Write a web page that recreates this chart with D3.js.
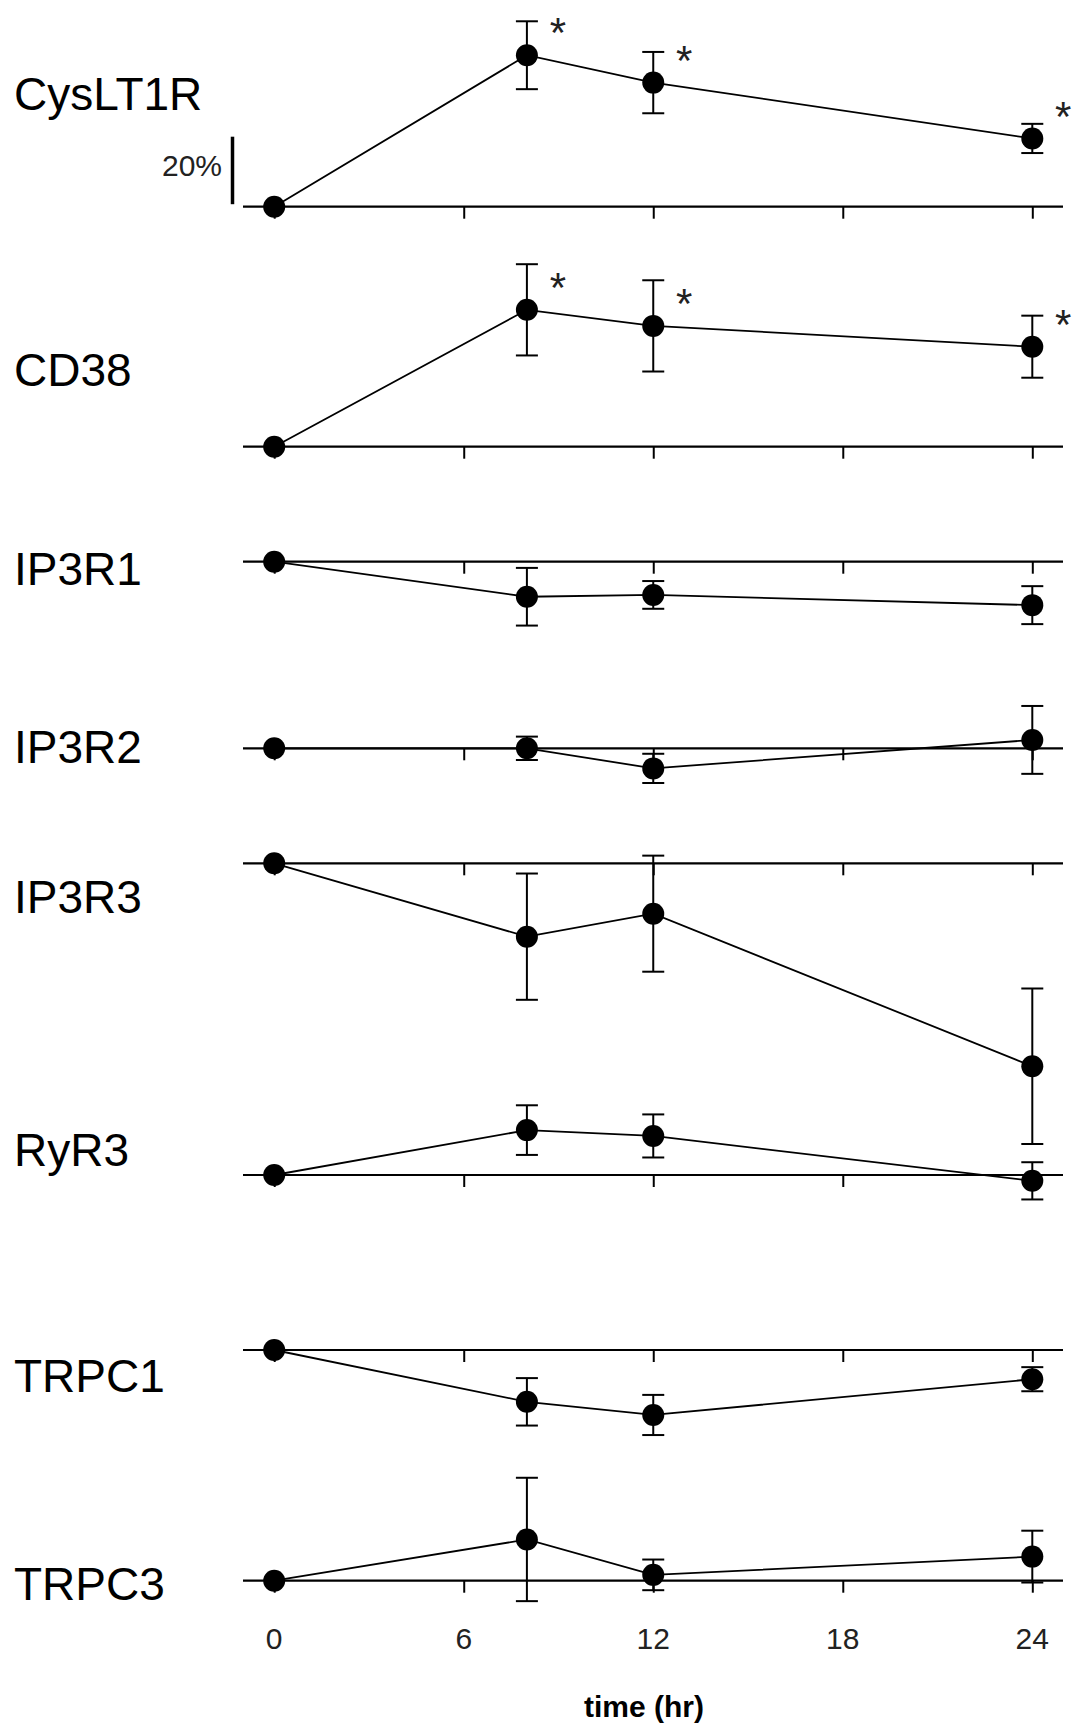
<!DOCTYPE html>
<html>
<head>
<meta charset="utf-8">
<script src="https://cdn.jsdelivr.net/npm/d3@7"></script>
<style>
  html, body { margin: 0; padding: 0; background: #fff; }
  svg { display: block; }
  text { font-family: "Liberation Sans", Arial, sans-serif; }
</style>
</head>
<body>
<svg id="chart" width="1072" height="1731"></svg>
<script>
// ---- data (percent change vs. time 0) ----
const times = [0, 8, 12, 24];
const tickValues = [0, 6, 12, 18, 24];
const tickLabels = ["0", "6", "12", "18", "24"];
const genes = ["CysLT1R", "CD38", "IP3R1", "IP3R2", "IP3R3", "RyR3", "TRPC1", "TRPC3"];

const meanCysLT1R = [0, 41.5, 34.0, 18.7];
const errCysLT1R  = [0, 9.3, 8.4, 4.0];
const sigCysLT1R  = [false, true, true, true];

const meanCD38 = [0, 37.5, 33.1, 27.4];
const errCD38  = [0, 12.5, 12.5, 8.5];
const sigCD38  = [false, true, true, true];

const meanIP3R1 = [0, -9.6, -9.1, -11.9];
const errIP3R1  = [0, 7.9, 3.8, 5.2];

const meanIP3R2 = [0, 0.0, -5.5, 2.3];
const errIP3R2  = [0, 3.2, 4.0, 9.3];

const meanIP3R3 = [0, -20.1, -13.8, -55.6];
const errIP3R3  = [0, 17.3, 15.9, 21.3];

const meanRyR3 = [0, 12.3, 10.7, -1.6];
const errRyR3  = [0, 6.8, 5.9, 5.1];

const meanTRPC1 = [0, -14.2, -17.8, -8.0];
const errTRPC1  = [0, 6.5, 5.5, 3.3];

const meanTRPC3 = [0, 11.3, 1.6, 6.6];
const errTRPC3  = [0, 16.9, 4.2, 7.1];

const scaleBarValue = 20;          // the vertical scale bar = 20 %
const scaleBarLabel = "20%";
const xAxisTitle = "time (hr)";

// ---- layout ----
const panelBase = [206.7, 446.7, 561.7, 748.3, 863.3, 1175, 1350, 1580.7];
const labelDy   = [-97, -61, 23, 15, 50, -9, 42, 19];
const pxPerPct = 3.65;

const series = [
  {name: genes[0], mean: meanCysLT1R, err: errCysLT1R, sig: sigCysLT1R},
  {name: genes[1], mean: meanCD38, err: errCD38, sig: sigCD38},
  {name: genes[2], mean: meanIP3R1, err: errIP3R1},
  {name: genes[3], mean: meanIP3R2, err: errIP3R2},
  {name: genes[4], mean: meanIP3R3, err: errIP3R3},
  {name: genes[5], mean: meanRyR3, err: errRyR3},
  {name: genes[6], mean: meanTRPC1, err: errTRPC1},
  {name: genes[7], mean: meanTRPC3, err: errTRPC3}
];

const svg = d3.select("#chart");
const x = d3.scaleLinear().domain([0, 24]).range([274.2, 1032.3]);
const axisX0 = 243, axisX1 = 1063;

series.forEach((s, i) => {
  const base = panelBase[i];
  const y = d3.scaleLinear().domain([0, 1]).range([base, base - pxPerPct]);
  const g = svg.append("g");

  // label
  g.append("text")
    .attr("x", 14).attr("y", base + labelDy[i])
    .attr("font-size", 46).attr("fill", "#000")
    .text(s.name);

  // axis line
  g.append("line")
    .attr("x1", axisX0).attr("x2", axisX1)
    .attr("y1", base).attr("y2", base)
    .attr("stroke", "#000").attr("stroke-width", 2.2);

  // ticks
  const axis = d3.axisBottom(x).tickValues(tickValues).tickSize(12)
    .tickSizeOuter(0).tickFormat("");
  const ag = g.append("g").attr("transform", `translate(0,${base})`).call(axis);
  ag.select(".domain").remove();
  ag.selectAll(".tick line").attr("stroke", "#000").attr("stroke-width", 2);

  const pts = times.map((t, k) => ({t, m: s.mean[k], e: s.err[k], sig: s.sig ? s.sig[k] : false}));

  // connecting line
  g.append("path")
    .datum(pts)
    .attr("d", d3.line().x(d => x(d.t)).y(d => y(d.m)))
    .attr("fill", "none").attr("stroke", "#000").attr("stroke-width", 1.8);

  // error bars
  const eb = g.selectAll(".eb").data(pts.filter(d => d.e > 0)).enter().append("g");
  eb.append("line")
    .attr("x1", d => x(d.t)).attr("x2", d => x(d.t))
    .attr("y1", d => y(d.m + d.e)).attr("y2", d => y(d.m - d.e))
    .attr("stroke", "#000").attr("stroke-width", 2);
  [1, -1].forEach(sign => {
    eb.append("line")
      .attr("x1", d => x(d.t) - 11).attr("x2", d => x(d.t) + 11)
      .attr("y1", d => y(d.m + sign * d.e)).attr("y2", d => y(d.m + sign * d.e))
      .attr("stroke", "#000").attr("stroke-width", 2);
  });

  // markers
  g.selectAll(".pt").data(pts).enter().append("circle")
    .attr("cx", d => x(d.t)).attr("cy", d => y(d.m)).attr("r", 11)
    .attr("fill", "#000");

  // significance asterisks
  g.selectAll(".ast").data(pts.filter(d => d.sig)).enter().append("text")
    .attr("x", d => x(d.t) + 31).attr("y", d => y(d.m) - 35)
    .attr("text-anchor", "middle").attr("dominant-baseline", "central")
    .attr("dy", "0.3em")
    .attr("font-size", 42).attr("fill", "#222")
    .text("*");

  // scale bar on first panel
  if (i === 0) {
    g.append("line")
      .attr("x1", 232.5).attr("x2", 232.5)
      .attr("y1", y(scaleBarValue) + 3).attr("y2", base - 2.5)
      .attr("stroke", "#000").attr("stroke-width", 3.5);
    g.append("text")
      .attr("x", 222).attr("y", 176)
      .attr("text-anchor", "end").attr("font-size", 30).attr("fill", "#222")
      .text(scaleBarLabel);
  }

  // tick labels on last panel
  if (i === series.length - 1) {
    g.selectAll(".tl").data(tickValues).enter().append("text")
      .attr("x", d => x(d)).attr("y", 1649)
      .attr("text-anchor", "middle").attr("font-size", 30).attr("fill", "#222")
      .text((d, k) => tickLabels[k]);
  }
});

// x-axis title
svg.append("text")
  .attr("x", 644).attr("y", 1717)
  .attr("text-anchor", "middle").attr("font-size", 30)
  .attr("font-weight", "bold").attr("fill", "#000")
  .text(xAxisTitle);
</script>
</body>
</html>
